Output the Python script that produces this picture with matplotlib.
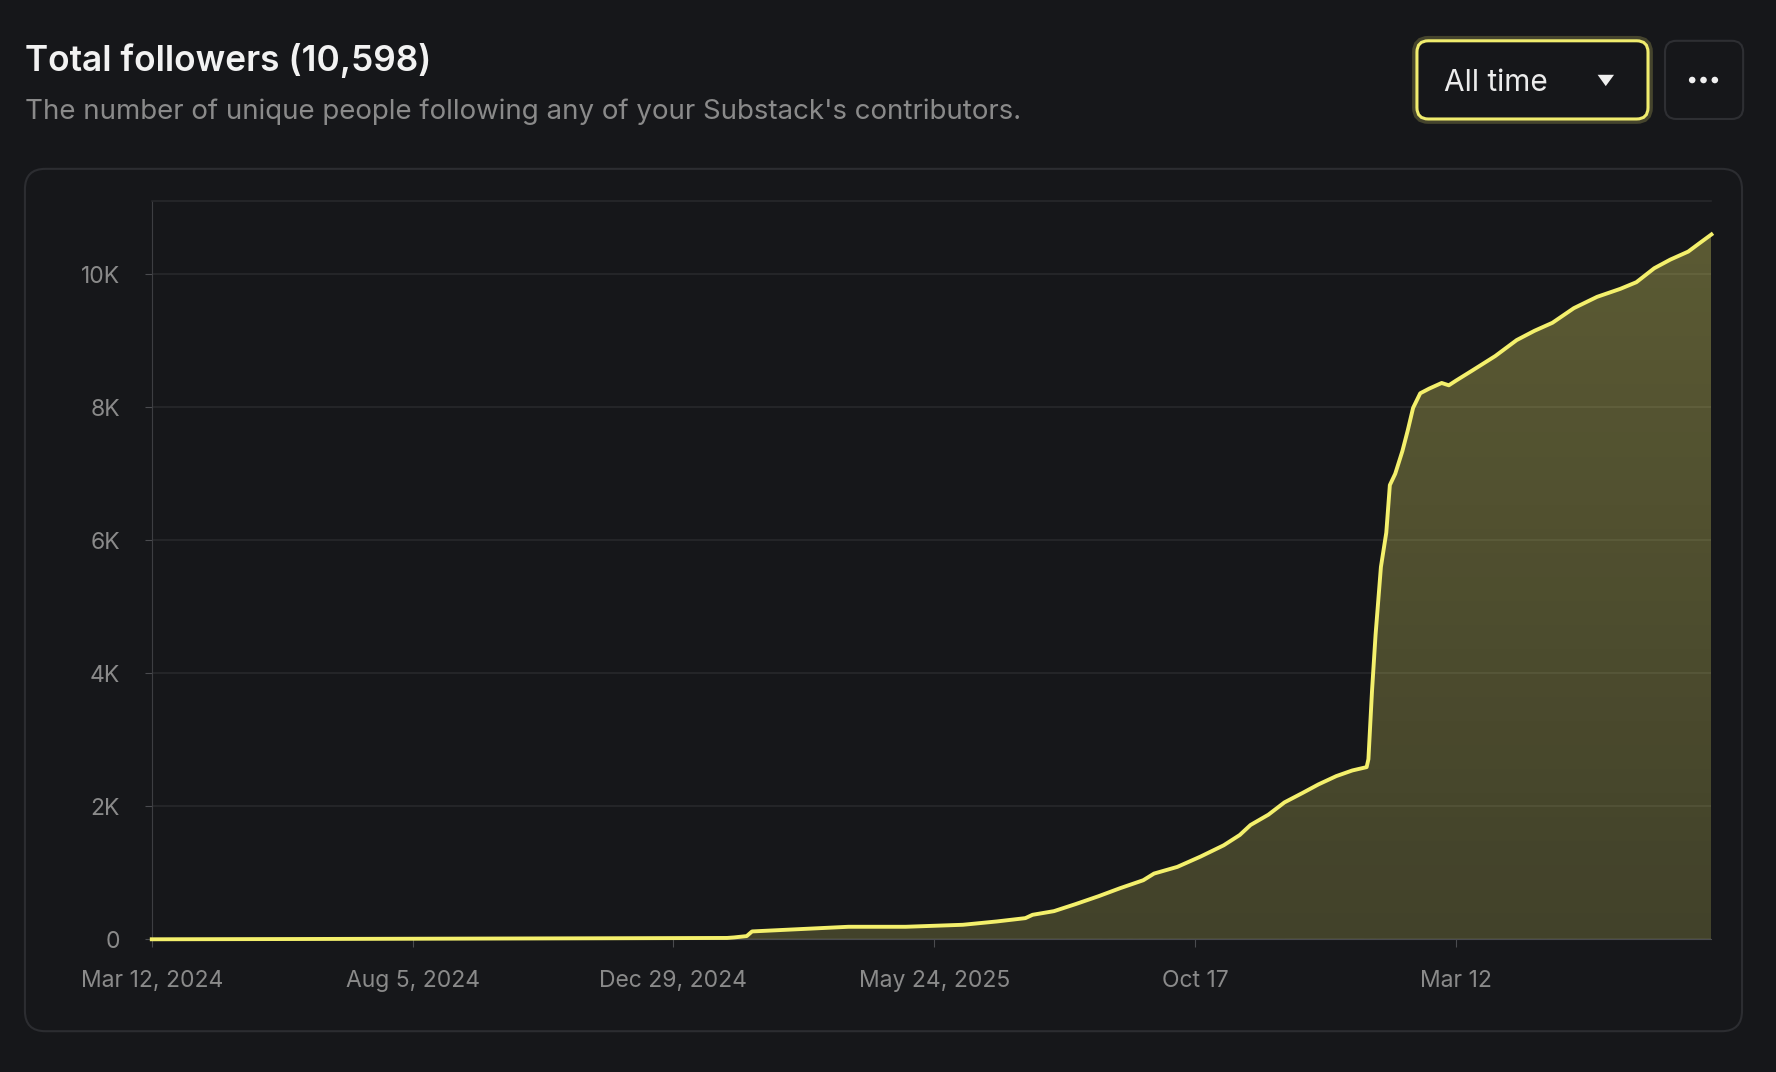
import numpy as np
import matplotlib.pyplot as plt
import matplotlib.dates as mdates
from matplotlib.patches import FancyBboxPatch, Polygon, Circle

plt.rcParams['font.family'] = ['Inter', 'DejaVu Sans']

# follower counts
dates = [
    "2024-03-12", "2024-06-01", "2024-09-01", "2024-12-01", "2025-01-28",
    "2025-02-01", "2025-02-08", "2025-02-11", "2025-03-06", "2025-04-06",
    "2025-05-08", "2025-06-09", "2025-06-28", "2025-07-14", "2025-07-18",
    "2025-07-30", "2025-08-11", "2025-08-24", "2025-09-05", "2025-09-18",
    "2025-09-24", "2025-10-07", "2025-10-20", "2025-11-02", "2025-11-11",
    "2025-11-17", "2025-11-27", "2025-12-06", "2025-12-16", "2025-12-25",
    "2026-01-04", "2026-01-13", "2026-01-21", "2026-01-22", "2026-01-24",
    "2026-01-26", "2026-01-29", "2026-02-01", "2026-02-03", "2026-02-06",
    "2026-02-10", "2026-02-13", "2026-02-16", "2026-02-20", "2026-02-25",
    "2026-03-04", "2026-03-08", "2026-03-12", "2026-03-21", "2026-04-03",
    "2026-04-15", "2026-04-25", "2026-05-05", "2026-05-17", "2026-05-30",
    "2026-06-12", "2026-06-21", "2026-07-01", "2026-07-10", "2026-07-20",
    "2026-07-26", "2026-08-02",
]
followers = [
    2, 6, 12, 18, 22,
    30, 50, 120, 150, 190,
    190, 220, 270, 320, 370,
    425, 530, 650, 770, 890,
    990, 1090, 1245, 1415, 1570,
    1720, 1875, 2060, 2200, 2330,
    2455, 2540, 2590, 2710, 3730,
    4580, 5600, 6115, 6830, 7000,
    7340, 7650, 7990, 8210, 8280,
    8365, 8330, 8400, 8550, 8770,
    9010, 9150, 9270, 9490, 9660,
    9780, 9880, 10090, 10220, 10340,
    10460, 10598,
]

tick_dates = ["2024-03-12", "2024-08-05", "2024-12-29", "2025-05-24", "2025-10-17", "2026-03-12"]
tick_labels = ["Mar 12, 2024", "Aug 5, 2024", "Dec 29, 2024", "May 24, 2025", "Oct 17", "Mar 12"]
y_ticks = [0, 2000, 4000, 6000, 8000, 10000]
y_labels = ["0", "2K", "4K", "6K", "8K", "10K"]

BG = "#16171a"
YELLOW = "#f4f06c"
GRID = "#27282b"
MUTED = "#8a8a8a"

# layout units: reference scaled to 1568 x 946
W, H = 1568, 946

fig = plt.figure(figsize=(17.76, 10.72), dpi=100, facecolor=BG)

bg = fig.add_axes([0, 0, 1, 1])
bg.set_xlim(0, W)
bg.set_ylim(H, 0)
bg.axis("off")

bg.add_patch(FancyBboxPatch((22, 149), 1516, 761, boxstyle="round,pad=0,rounding_size=18",
                            fc=BG, ec="#2c2d31", lw=1.5))

bg.text(22, 63, "Total followers (10,598)", fontsize=25.4, weight="semibold",
        color="#f2f2f2", va="baseline")
bg.text(22, 105, "The number of unique people following any of your Substack's contributors.",
        fontsize=19.95, color=MUTED, va="baseline")

# "All time" dropdown
bg.add_patch(FancyBboxPatch((1251, 36), 204, 69, boxstyle="round,pad=0,rounding_size=10",
                            fc="none", ec="#45442d", lw=7))
bg.add_patch(FancyBboxPatch((1251, 36), 204, 69, boxstyle="round,pad=0,rounding_size=10",
                            fc=BG, ec="#f0ec6e", lw=2.2))
bg.text(1275, 80, "All time", fontsize=21.5, color="#ececec", va="baseline")
bg.add_patch(Polygon([(1410.5, 66), (1425, 66), (1417.7, 76)], closed=True, fc="#f0f0f0", ec="none"))

# "..." button
bg.add_patch(FancyBboxPatch((1470, 36), 69, 69, boxstyle="round,pad=0,rounding_size=10",
                            fc=BG, ec="#2e2f33", lw=1.5))
for cx in (1494, 1504, 1514):
    bg.add_patch(Circle((cx, 70.6), 2.9, fc="#f0f0f0", ec="none"))

# chart
ax = fig.add_axes([134 / W, 1 - 829 / H, (1511 - 134) / W, (829 - 177) / H])
ax.set_facecolor("none")

x = mdates.date2num(np.array(dates, dtype="datetime64[D]"))
y = np.array(followers, dtype=float)
ymax = 11107

grad = np.linspace(0, 1, 256)[:, None]
img = np.zeros((256, 1, 4))
img[..., 0], img[..., 1], img[..., 2] = 0.957, 0.941, 0.424
img[..., 3] = 0.2 + 0.12 * grad
im = ax.imshow(img, extent=[x[0], x[-1], 0, ymax], aspect="auto", origin="lower", zorder=1)
area = ax.fill_between(x, y, 0, color="none", lw=0)
im.set_clip_path(area.get_paths()[0], ax.transData)

ax.plot(x, y, color=YELLOW, lw=2.8, zorder=3, clip_on=False, solid_joinstyle="round")

ax.set_xlim(x[0], x[-1])
ax.set_ylim(0, ymax)

ax.set_xticks(mdates.date2num(np.array(tick_dates, dtype="datetime64[D]")))
ax.set_xticklabels(tick_labels)
ax.set_yticks(y_ticks)
ax.set_yticklabels(y_labels)

ax.yaxis.grid(True, color=GRID, lw=1.2)
ax.set_axisbelow(True)

ax.spines["right"].set_visible(False)
ax.spines["top"].set_color(GRID)
ax.spines["top"].set_linewidth(1.2)
ax.spines["left"].set_color("#3d3e42")
ax.spines["bottom"].set_color("#4a4b4f")

ax.tick_params(axis="y", length=5, color="#4a4b4f", pad=18, labelsize=16.5, labelcolor=MUTED)
ax.tick_params(axis="x", length=6, color="#4a4b4f", pad=16, labelsize=16.5, labelcolor=MUTED)

fig.savefig("out.png", dpi=100, facecolor=BG)
